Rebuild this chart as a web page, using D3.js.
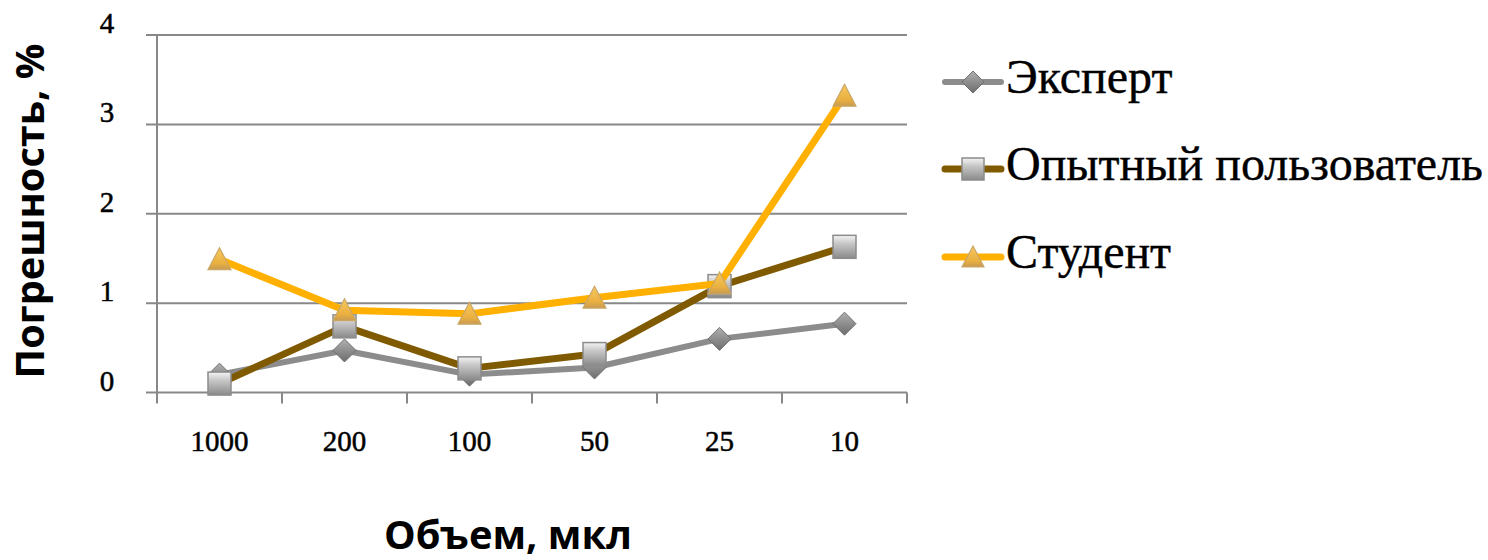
<!DOCTYPE html>
<html><head><meta charset="utf-8">
<script src="https://cdn.jsdelivr.net/npm/d3@7"></script>
<style>html,body{margin:0;padding:0;background:#fff;}svg{display:block;}</style>
</head><body>
<svg id="chart" width="1488" height="560"></svg>
<script>
const categories = ["1000", "200", "100", "50", "25", "10"];
const seriesNames = ["Эксперт", "Опытный пользователь", "Студент"];
const expertValues = [0.2, 0.47, 0.2, 0.28, 0.6, 0.77];
const experiencedValues = [0.1, 0.74, 0.27, 0.43, 1.19, 1.63];
const studentValues = [1.49, 0.92, 0.88, 1.06, 1.22, 3.32];
const yTicks = [0, 1, 2, 3, 4];
const yTitle = "Погрешность, %";
const xTitle = "Объем, мкл";

const svg = d3.select("#chart");
const defs = svg.append("defs");
function grad(id, stops) {
  const g = defs.append("linearGradient").attr("id", id).attr("x1", 0).attr("y1", 0).attr("x2", 0).attr("y2", 1);
  stops.forEach(s => g.append("stop").attr("offset", s[0]).attr("stop-color", s[1]));
}
grad("gDiamond", [[0, "#b0b0b0"], [0.5, "#8e8e8e"], [1, "#6e6e6e"]]);
grad("gSquare", [[0, "#f4f4f4"], [0.35, "#c8c8c8"], [1, "#8a8a8a"]]);
grad("gTri", [[0, "#f6c860"], [0.7, "#eab040"], [1, "#c89a50"]]);

const series = [
  {name: seriesNames[0], values: expertValues, color: "#8c8c8c", width: 6, marker: "diamond"},
  {name: seriesNames[1], values: experiencedValues, color: "#7f5a00", width: 7, marker: "square"},
  {name: seriesNames[2], values: studentValues, color: "#ffb000", width: 7, marker: "triangle"}
];

const x = d3.scaleBand().domain(categories).range([157, 907]);
const y = d3.scaleLinear().domain([0, 4]).range([392.5, 35]);
const cx = c => x(c) + x.bandwidth() / 2;

// gridlines
svg.append("g").selectAll("line").data(yTicks).join("line")
  .attr("x1", 146).attr("x2", 907)
  .attr("y1", d => y(d)).attr("y2", d => y(d))
  .attr("stroke", "#888").attr("stroke-width", 2);

// y axis line
svg.append("line").attr("x1", 157).attr("x2", 157).attr("y1", y(4)).attr("y2", y(0) + 11)
  .attr("stroke", "#888").attr("stroke-width", 2);

// x tick marks at band edges
const edges = categories.map(c => x(c)).concat([x.range()[1]]);
svg.append("g").selectAll("line").data(edges.slice(1)).join("line")
  .attr("x1", d => d).attr("x2", d => d)
  .attr("y1", y(0)).attr("y2", y(0) + 11)
  .attr("stroke", "#888").attr("stroke-width", 2);

// y tick labels
svg.append("g").selectAll("text").data(yTicks).join("text")
  .attr("x", 107).attr("y", d => y(d) - 2)
  .attr("text-anchor", "middle")
  .attr("font-family", "Liberation Serif, serif").attr("font-size", 29)
  .attr("fill", "#000").attr("stroke", "#000").attr("stroke-width", 0.5).text(d => d);

// x tick labels
svg.append("g").selectAll("text").data(categories).join("text")
  .attr("x", d => cx(d)).attr("y", 451)
  .attr("text-anchor", "middle")
  .attr("font-family", "Liberation Serif, serif").attr("font-size", 29)
  .attr("fill", "#000").attr("stroke", "#000").attr("stroke-width", 0.5).text(d => d);

// axis titles
function fitText(sel, target) {
  const len = sel.node().getComputedTextLength();
  const fs = parseFloat(sel.attr("font-size"));
  sel.attr("font-size", fs * target / len);
}
const yt = svg.append("text")
  .attr("transform", "translate(44,211) rotate(-90)")
  .attr("text-anchor", "middle")
  .attr("font-family", "Open Sans, sans-serif").attr("font-weight", "bold").attr("font-size", 30)
  .attr("fill", "#000").text(yTitle);
fitText(yt, 335);
const xt = svg.append("text")
  .attr("x", 508).attr("y", 549)
  .attr("text-anchor", "middle")
  .attr("font-family", "Open Sans, sans-serif").attr("font-weight", "bold").attr("font-size", 30)
  .attr("fill", "#000").text(xTitle);
fitText(xt, 248);

// markers
function drawMarker(g, type, px, py, s) {
  const h = s / 2;
  if (type === "diamond") {
    g.append("path").attr("d", `M${px},${py - h}L${px + h},${py}L${px},${py + h}L${px - h},${py}Z`)
      .attr("fill", "url(#gDiamond)").attr("stroke", "#6f6f6f").attr("stroke-width", 1);
  } else if (type === "square") {
    g.append("rect").attr("x", px - h).attr("y", py - h).attr("width", s).attr("height", s)
      .attr("fill", "url(#gSquare)").attr("stroke", "#8c8c8c").attr("stroke-width", 1.5);
  } else {
    g.append("path").attr("d", `M${px},${py - h}L${px + h},${py + h * 0.9}L${px - h},${py + h * 0.9}Z`)
      .attr("fill", "url(#gTri)").attr("stroke", "#c9a766").attr("stroke-width", 1.2);
  }
}

const line = d3.line().x((d, i) => cx(categories[i])).y(d => y(d));
series.forEach(s => {
  const g = svg.append("g");
  g.append("path").datum(s.values).attr("d", line)
    .attr("fill", "none").attr("stroke", s.color).attr("stroke-width", s.width)
    .attr("stroke-linejoin", "round");
  s.values.forEach((v, i) => drawMarker(g, s.marker, cx(categories[i]), y(v), 23));
});

// legend
const legendRows = [82, 169, 257];
series.forEach((s, i) => {
  const g = svg.append("g");
  const ly = legendRows[i];
  g.append("line").attr("x1", 945).attr("x2", 1001).attr("y1", ly).attr("y2", ly)
    .attr("stroke", s.color).attr("stroke-width", s.width).attr("stroke-linecap", "round");
  drawMarker(g, s.marker, 973, ly, 22);
  g.append("text").attr("x", 1006).attr("y", ly + 11)
    .attr("font-family", "Liberation Serif, serif").attr("font-size", 48)
    .attr("fill", "#000").attr("stroke", "#000").attr("stroke-width", 0.4).text(s.name);
});
</script>
</body></html>
